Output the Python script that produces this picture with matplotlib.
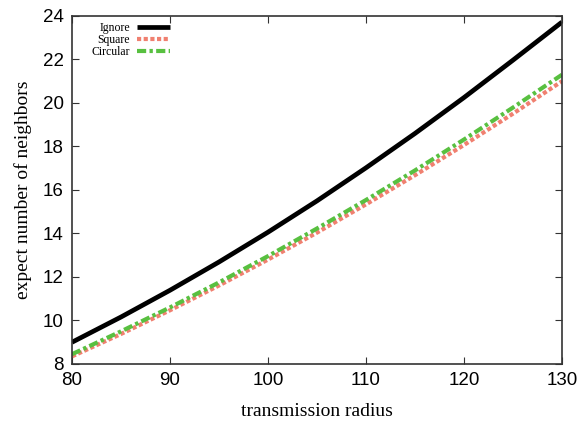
import matplotlib
matplotlib.use("Agg")
import matplotlib.pyplot as plt

# transmission radius vs expected number of neighbours
radius = [80, 85, 90, 95, 100, 105, 110, 115, 120, 125, 130]
ignore = [9.00, 10.16, 11.39, 12.69, 14.06, 15.50, 17.02, 18.60, 20.25, 21.97, 23.72]
square = [8.35, 9.38, 10.47, 11.61, 12.80, 14.04, 15.34, 16.68, 18.07, 19.51, 21.00]
circular = [8.45, 9.50, 10.60, 11.75, 12.96, 14.23, 15.54, 16.90, 18.32, 19.79, 21.30]

SERIF = ["Liberation Serif", "DejaVu Serif"]
SANS = ["Liberation Sans", "DejaVu Sans"]

fig = plt.figure(figsize=(5.82, 4.21), dpi=100)
ax = fig.add_axes([0.1237, 0.1354, 0.8419, 0.8266])

ax.plot(radius, ignore, color="black", lw=3.4, solid_capstyle="butt", label="Ignore")
ax.plot(radius, square, color="#f08070", lw=3.0, linestyle=(0, (1, 0.6)), label="Square")
ax.plot(radius, circular, color="#58c040", lw=3.0, linestyle=(0, (2.2, 0.8, 0.8, 0.8)), label="Circular")

ax.set_xlim(80, 130)
ax.set_ylim(8, 24)
ax.set_xticks(range(80, 131, 10))
ax.set_yticks(range(8, 25, 2))
ax.tick_params(direction="in", top=True, right=True, length=5, width=0.8,
               color="#333333", pad=6)
for lab in ax.get_xticklabels() + ax.get_yticklabels():
    lab.set_family(SANS)
    lab.set_fontsize(13.5)
for s in ax.spines.values():
    s.set_color("#333333")
    s.set_linewidth(1.2)

ax.set_xlabel("transmission radius", family=SERIF, fontsize=14, labelpad=10)
ax.set_ylabel("expect number of neighbors", family=SERIF, fontsize=14, labelpad=8)

leg = ax.legend(loc="upper left", bbox_to_anchor=(0.018, 1.012), frameon=False,
                markerfirst=False, handlelength=2.8, handletextpad=0.6,
                labelspacing=0.0, borderaxespad=0.5,
                prop={"family": SERIF, "size": 8.5})
for t in leg.get_texts():
    t.set_ha("right")

fig.savefig("out.png", dpi=100, facecolor="white")
